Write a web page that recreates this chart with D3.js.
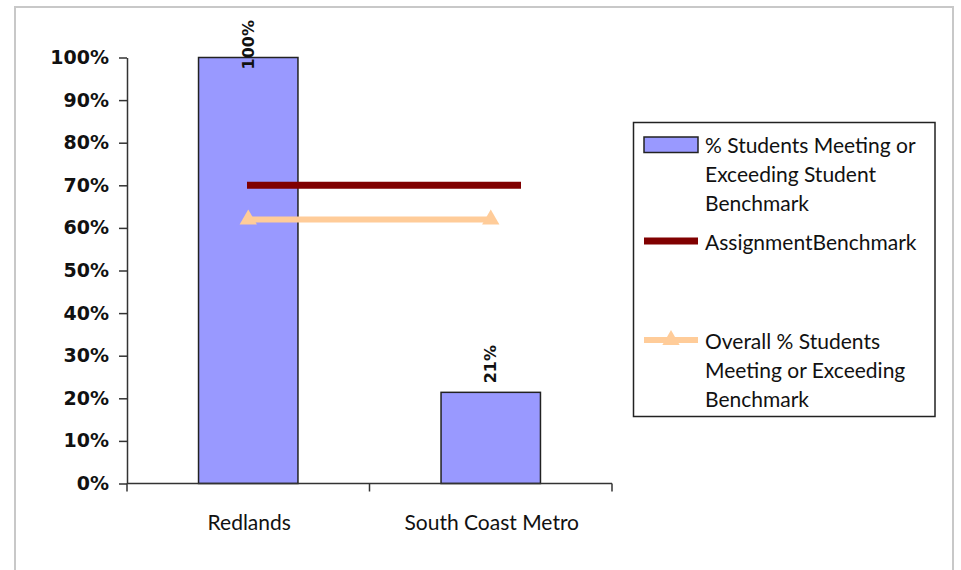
<!DOCTYPE html>
<html><head><meta charset="utf-8">
<script src="https://cdn.jsdelivr.net/npm/d3@7"></script>
<style>body{margin:0;background:#fff}svg{display:block}</style>
</head><body>
<svg id="c" width="961" height="570"></svg>
<script>
const categories = ["Redlands", "South Coast Metro"];
const studentPct = [1.00, 0.214];
const assignmentBenchmark = [0.70, 0.70];
const overallPct = [0.62, 0.62];
const yTicks = [0,0.1,0.2,0.3,0.4,0.5,0.6,0.7,0.8,0.9,1.0];
const legendLabels = [
  ["% Students Meeting or","Exceeding Student","Benchmark"],
  ["AssignmentBenchmark"],
  ["Overall % Students","Meeting or Exceeding","Benchmark"]
];

const svg = d3.select("#c");
svg.append("rect").attr("width",961).attr("height",570).attr("fill","#fff");
// outer frame
svg.append("path").attr("d","M15,575 V7 H953 V575").attr("fill","none").attr("stroke","#c8c8c8").attr("stroke-width",2);

const x = d3.scaleBand().domain(categories).range([127,612]).paddingInner(0.59).paddingOuter(0.295);
const y = d3.scaleLinear().domain([0,1]).range([483.5,57.5]);
const xc = d => x(d) + x.bandwidth()/2;
const xb = d3.scalePoint().domain(categories).range([247,521]);

const axisColor = "#333";
// y axis
const ya = svg.append("g").attr("transform","translate(127,0)")
  .call(d3.axisLeft(y).tickValues(yTicks).tickFormat(d3.format(".0%")).tickSize(8).tickSizeOuter(0));
ya.select(".domain").attr("stroke",axisColor).attr("stroke-width",1.5);
ya.selectAll(".tick line").attr("stroke",axisColor).attr("stroke-width",1.5);
ya.selectAll(".tick text").attr("font-family","DejaVu Sans").attr("font-weight","bold")
  .attr("font-size",19).attr("fill","#111").attr("x",-18);

// bars
svg.selectAll("rect.bar").data(categories).join("rect").attr("class","bar")
  .attr("x",d=>x(d)).attr("width",x.bandwidth())
  .attr("y",(d,i)=>y(studentPct[i])).attr("height",(d,i)=>y(0)-y(studentPct[i]))
  .attr("fill","#9999FF").attr("stroke","#222").attr("stroke-width",1.5);

// x axis
const step = x.step();
const xBounds = [x.range()[0], x.range()[0]+step, x.range()[1]];
svg.append("line").attr("x1",x.range()[0]).attr("x2",x.range()[1]).attr("y1",y(0)).attr("y2",y(0))
  .attr("stroke",axisColor).attr("stroke-width",1.5);
svg.selectAll("line.xt").data(xBounds).join("line").attr("class","xt")
  .attr("x1",d=>d).attr("x2",d=>d).attr("y1",y(0)).attr("y2",y(0)+8)
  .attr("stroke",axisColor).attr("stroke-width",1.5);
svg.selectAll("text.cat").data(categories).join("text").attr("class","cat")
  .attr("x",d=>xc(d)+1).attr("y",521).attr("text-anchor","middle").attr("dominant-baseline","central")
  .attr("font-family","Lato").attr("font-size",21).attr("fill","#111").text(d=>d);

// benchmark line
const line = d3.line();
svg.append("path").attr("d",line(categories.map((c,i)=>[xb(c),y(assignmentBenchmark[i])])))
  .attr("stroke","#800000").attr("stroke-width",7).attr("fill","none");
// overall line
svg.append("path").attr("d",line(categories.map((c,i)=>[xc(c),y(overallPct[i])])))
  .attr("stroke","#FFCC99").attr("stroke-width",6).attr("fill","none");
const tri = d3.symbol().type(d3.symbolTriangle).size(130);
svg.selectAll("path.mk").data(categories).join("path").attr("class","mk")
  .attr("d",tri).attr("transform",(c,i)=>`translate(${xc(c)},${y(overallPct[i])})`).attr("fill","#FFCC99");

// data labels
const fmt = d3.format(".0%");
svg.selectAll("text.lbl").data(categories).join("text").attr("class","lbl")
  .attr("font-family","DejaVu Sans").attr("font-weight","bold").attr("font-size",16).attr("fill","#111")
  .attr("dominant-baseline","central").attr("text-anchor","start")
  .text((c,i)=>fmt(studentPct[i]))
  .each(function(c,i){
    const len = this.getComputedTextLength();
    const sy = Math.max(y(studentPct[i]) - 9, 20 + len);
    d3.select(this).attr("transform",`translate(${xc(c)},${sy}) rotate(-90)`);
  });

// legend
const lg = svg.append("g");
lg.append("rect").attr("x",633.5).attr("y",122.5).attr("width",301.5).attr("height",294)
  .attr("fill","#fff").attr("stroke","#222").attr("stroke-width",1.5);
lg.append("rect").attr("x",644).attr("y",137).attr("width",54).attr("height",15.5)
  .attr("fill","#9999FF").attr("stroke","#222").attr("stroke-width",1.5);
lg.append("line").attr("x1",644).attr("x2",698).attr("y1",241).attr("y2",241)
  .attr("stroke","#800000").attr("stroke-width",7);
lg.append("line").attr("x1",644).attr("x2",698).attr("y1",340).attr("y2",340)
  .attr("stroke","#FFCC99").attr("stroke-width",6);
lg.append("path").attr("d",tri).attr("transform","translate(671,340)").attr("fill","#FFCC99");
const lineYs = [[144,173,202],[241],[340,369,398]];
legendLabels.forEach((lines,k)=>{
  lines.forEach((t,j)=>{
    lg.append("text").attr("x",705).attr("y",lineYs[k][j]).attr("dominant-baseline","central")
      .attr("font-family","Lato").attr("font-size",21).attr("fill","#111").text(t);
  });
});
</script>
</body></html>
